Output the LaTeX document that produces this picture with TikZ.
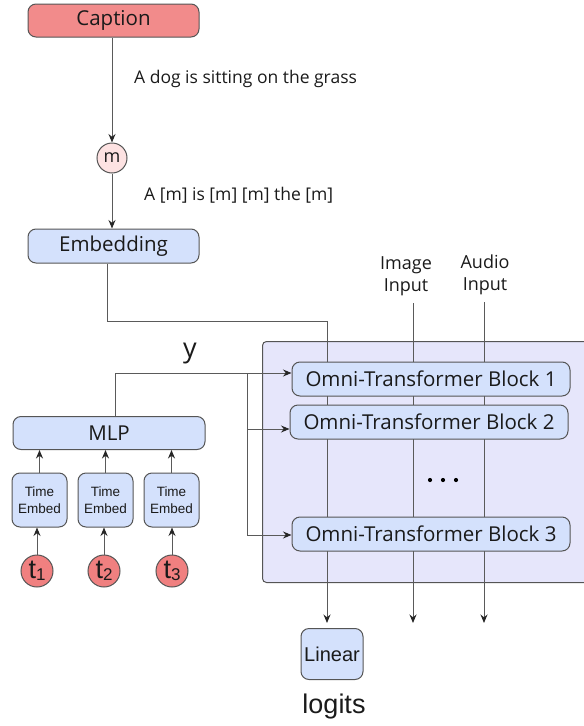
\documentclass[tikz,border=0pt]{standalone}
\usepackage{fontspec}
\setmainfont{Open Sans}
\newfontfamily\arialf{Liberation Sans}
\usetikzlibrary{arrows.meta}
\definecolor{capred}{HTML}{F28B8B}
\definecolor{mpink}{HTML}{FDE2E2}
\definecolor{boxblue}{HTML}{D4E1FC}
\definecolor{lav}{HTML}{E6E6FB}
\definecolor{tred}{HTML}{F08080}
\definecolor{bordergray}{HTML}{555555}
\definecolor{linegray}{HTML}{5A5A5A}
\definecolor{txt}{HTML}{1A1A1A}
\begin{document}
\begin{tikzpicture}[x=1pt,y=-1pt,
  every node/.style={text=txt},
  box/.style={draw=bordergray, line width=1pt, rounded corners=8pt, fill=boxblue, inner sep=0pt},
  blk/.style={box, minimum width=278pt, minimum height=34pt, font=\fontsize{20.5}{24}\selectfont},
  temb/.style={box, minimum width=55pt, minimum height=54pt, align=center, font=\arialf\fontsize{13.5}{16.5}\selectfont},
  tcirc/.style={circle, draw=bordergray, line width=1pt, fill=tred, minimum size=32pt, inner sep=0pt},
  ln/.style={draw=linegray, line width=1pt},
  arr/.style={ln, -{Stealth[length=8.5pt,width=7pt,color=black!85]}},
  lbl/.style={font=\fontsize{17.5}{22}\selectfont, inner sep=0pt}]
\useasboundingbox (0,0) rectangle (584,726);

% top column
\node[box, fill=capred, minimum width=171pt, minimum height=33pt, font=\fontsize{20.5}{24}\selectfont] (cap) at (113.5,20.5) {Caption};
\node[circle, draw=bordergray, line width=1pt, fill=mpink, minimum size=30pt, inner sep=0pt, font=\fontsize{18}{18}\selectfont] (m) at (112,158) {m};
\node[box, minimum width=171pt, minimum height=34pt, font=\fontsize{20.5}{24}\selectfont] (emb) at (113.5,246) {Embedding};
\node[lbl, anchor=west] (s1) at (134,79) {A dog is sitting on the grass};
\node[lbl, anchor=west] (s2) at (144,195) {A [m] is [m] [m] the [m]};
\draw[arr] (cap.south -| m) -- (m.north);
\draw[arr] (m.south) -- (m.south |- emb.north);

% container
\node[draw=bordergray, line width=1pt, fill=lav, rounded corners=4pt, anchor=north west, minimum width=330pt, minimum height=241pt, inner sep=0pt] (cont) at (262,341) {};

% inputs
\node[lbl, align=center, font=\fontsize{18}{22.5}\selectfont] (img) at (406,276) {Image\\Input};
\node[lbl, align=center, font=\fontsize{18}{22.5}\selectfont] (aud) at (485,275) {Audio\\Input};

\coordinate (ebend) at (107,321);
\coordinate (tcol) at (327,321);
\coordinate (tout) at (327,623);
\coordinate (itop) at (413,303);
\coordinate (iout) at (413,623);
\coordinate (atop) at (484,302);
\coordinate (aout) at (484,623);
\draw[arr] (emb.south -| ebend) -- (ebend) -- (tcol) -- (tout);
\draw[arr] (itop) -- (iout);
\draw[arr] (atop) -- (aout);

% blocks
\node[blk] (b1) at (431,379) {Omni-Transformer Block 1};
\node[blk] (b2) at (429,422) {Omni-Transformer Block 2};
\node[blk] (b3) at (431,534) {Omni-Transformer Block 3};
\foreach \dx in {430,443,456} \fill[black] (\dx,480) circle (2.1pt);

% output
\node[box, minimum width=62pt, minimum height=51pt, font=\arialf\fontsize{20}{22}\selectfont] (lin) at (332,654) {Linear};
\node[font=\arialf\fontsize{27}{30}\selectfont, inner sep=0pt] (logits) at (334,707) {logits};

% left side
\node[box, minimum width=192pt, minimum height=33pt, font=\fontsize{20.5}{24}\selectfont] (mlp) at (109,433) {MLP};
\node[font=\fontsize{27}{27}\selectfont, inner sep=0pt] (ylab) at (190,354) {y};
\node[temb] (te1) at (39.5,500) {Time\\Embed};
\node[temb] (te2) at (105.5,500) {Time\\Embed};
\node[temb] (te3) at (171.5,500) {Time\\Embed};
\node[tcirc] (t1) at (37,571) {\arialf\fontsize{27}{27}\selectfont t\raisebox{-2pt}{\fontsize{17}{17}\selectfont 1}};
\node[tcirc] (t2) at (104,571) {\arialf\fontsize{27}{27}\selectfont t\raisebox{-2pt}{\fontsize{17}{17}\selectfont 2}};
\node[tcirc] (t3) at (172,571) {\arialf\fontsize{27}{27}\selectfont t\raisebox{-2pt}{\fontsize{17}{17}\selectfont 3}};
\foreach \i in {1,2,3}{
  \draw[arr] (t\i.north) -- (t\i.north |- te\i.south);
  \draw[arr] (te\i.north) -- (te\i.north |- mlp.south);
}
\coordinate (ybend) at (115,373);
\coordinate (ysplit) at (247,373);
\coordinate (y2) at (247,429);
\coordinate (y3) at (247,535);
\draw[ln] (mlp.north -| ybend) -- (ybend) -- (ysplit);
\draw[ln] (ysplit) -- (y3);
\draw[arr] (ysplit) -- (b1.west |- ysplit);
\draw[arr] (y2) -- (b2.west |- y2);
\draw[arr] (y3) -- (b3.west |- y3);
\end{tikzpicture}
\end{document}
